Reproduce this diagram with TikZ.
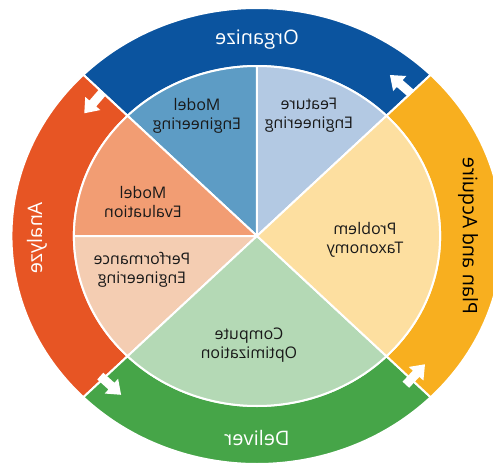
\documentclass[tikz,border=0pt]{standalone}
\usepackage{fontspec}
\setmainfont{Open Sans}
\usepackage{graphicx}
% mirror a piece of text horizontally
\newcommand{\mirrored}[1]{\scalebox{-1}[1]{#1}}
\definecolor{orgblue}{HTML}{0B549F}
\definecolor{anaorange}{HTML}{E75524}
\definecolor{delgreen}{HTML}{46A548}
\definecolor{planyellow}{HTML}{F8AF1F}
\definecolor{modeleng}{HTML}{5D9CC5}
\definecolor{featureeng}{HTML}{B3C9E3}
\definecolor{modeleval}{HTML}{F29D73}
\definecolor{perfeng}{HTML}{F4CDB2}
\definecolor{computeopt}{HTML}{B4D9B5}
\definecolor{probtax}{HTML}{FDDFA0}
\begin{document}
\begin{tikzpicture}[x=1pt,y=1pt,
  sep/.style={draw=white, line width=2pt, line join=round},
  ringlbl/.style={font=\fontsize{20}{24}\selectfont, text=white, inner sep=0pt},
  pielbl/.style={font=\fontsize{16}{19}\selectfont, text=black!90, inner sep=0pt, align=center}]
\fill[white] (-257,-228) rectangle (236,236);
\useasboundingbox (-257,-228) rectangle (236,236);
\begin{scope}[xscale=1.077]
  % outer ring of four phases
  \foreach \s/\e/\c in {45/135/orgblue, 135/225/anaorange, 225/315/delgreen, -45/45/planyellow}
    \filldraw[sep, fill=\c] (\s:170) arc[start angle=\s, end angle=\e, radius=170]
      -- (\e:228) arc[start angle=\e, end angle=\s, radius=228] -- cycle;
  % inner pie of activities
  \foreach \s/\e/\c in {45/90/featureeng, 90/135/modeleng, 135/180/modeleval,
                        180/225/perfeng, 225/315/computeopt, -45/45/probtax}
    \filldraw[sep, fill=\c] (0,0) -- (\s:170) arc[start angle=\s, end angle=\e, radius=170] -- cycle;
\end{scope}
% flow arrows between phases
\foreach \a in {49,139,228,317}
  \fill[white, shift={({1.077*202*cos(\a)},{202*sin(\a)})}, rotate=\a+90]
    (-15,-4.5) -- (0,-4.5) -- (0,-10) -- (13,0) -- (0,10) -- (0,4.5) -- (-15,4.5) -- cycle;
% phase labels
\node[ringlbl] (organize) at (0,196) {\mirrored{Organize}};
\node[ringlbl] (deliver) at (0,-202) {\mirrored{Deliver}};
\node[ringlbl, rotate=90] (analyze) at (-220,-2) {\mirrored{Analyze}};
\node[ringlbl, rotate=-90, text=black] (plan) at (211,0) {\mirrored{Plan and Acquire}};
% activity labels
\node[pielbl] (lblmodeleng) at (-60,120) {\mirrored{\begin{tabular}{@{}c@{}}Model\\Engineering\end{tabular}}};
\node[pielbl] (lblfeature) at (52,121) {\mirrored{\begin{tabular}{@{}c@{}}Feature\\Engineering\end{tabular}}};
\node[pielbl] (lblmodeleval) at (-114,32) {\mirrored{\begin{tabular}{@{}c@{}}Model\\Evaluation\end{tabular}}};
\node[pielbl] (lblperf) at (-115,-34) {\mirrored{\begin{tabular}{@{}c@{}}Performance\\Engineering\end{tabular}}};
\node[pielbl] (lblproblem) at (108,-4) {\mirrored{\begin{tabular}{@{}c@{}}Problem\\Taxonomy\end{tabular}}};
\node[pielbl] (lblcompute) at (-8,-109) {\mirrored{\begin{tabular}{@{}c@{}}Compute\\Optimization\end{tabular}}};
\end{tikzpicture}
\end{document}
